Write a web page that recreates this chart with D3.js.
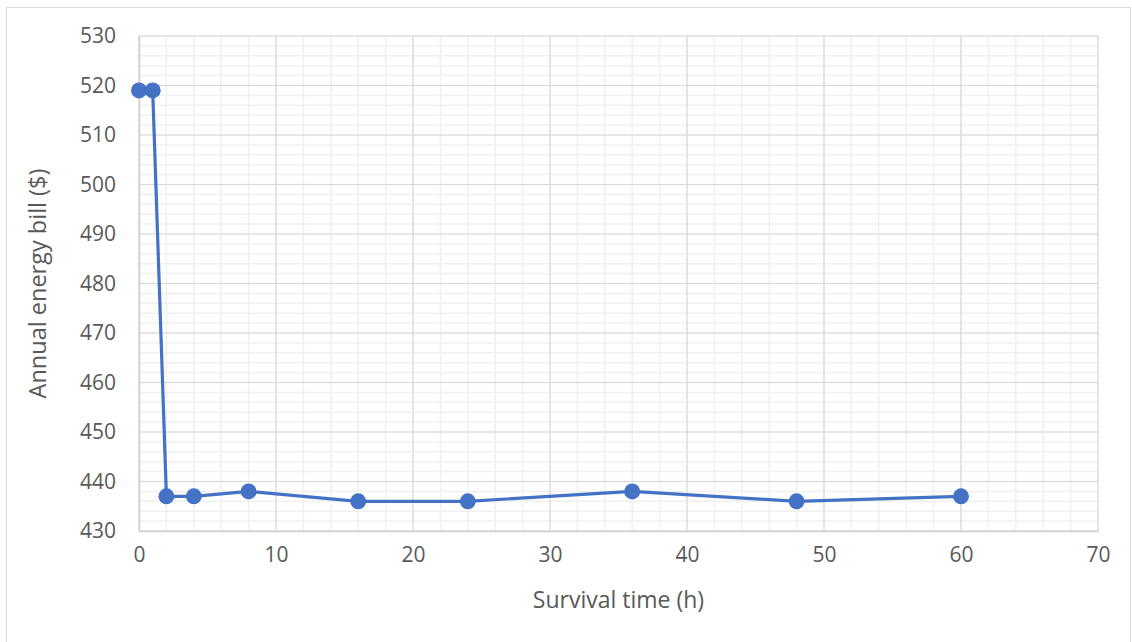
<!DOCTYPE html>
<html>
<head>
<meta charset="utf-8">
<script src="https://cdn.jsdelivr.net/npm/d3@7"></script>
<style>
  body { margin: 0; background: #fff; }
  svg { display: block; font-family: "Open Sans", "Noto Sans", sans-serif; }
</style>
</head>
<body>
<svg id="chart" width="1132" height="642"></svg>
<script>
// data
const hours = [0, 1, 2, 4, 8, 16, 24, 36, 48, 60];
const bill = [519, 519, 437, 437, 438, 436, 436, 438, 436, 437];
const xTicks = [0, 10, 20, 30, 40, 50, 60, 70];
const yTicks = [430, 440, 450, 460, 470, 480, 490, 500, 510, 520, 530];
const xTitle = "Survival time (h)";
const yTitle = "Annual energy bill ($)";

const svg = d3.select("#chart");
const plotL = 139, plotR = 1098, plotT = 36, plotB = 531;

// outer frame
svg.append("rect")
    .attr("x", 6.5).attr("y", 7.5)
    .attr("width", 1124).attr("height", 650)
    .attr("fill", "#fff")
    .attr("stroke", "#d9d9d9");

const x = d3.scaleLinear().domain([0, 70]).range([plotL, plotR]);
const y = d3.scaleLinear().domain([430, 530]).range([plotB, plotT]);

// minor grid
const g = svg.append("g");
g.selectAll(".mx").data(d3.range(0, 71, 2)).enter().append("line")
    .attr("x1", d => x(d)).attr("x2", d => x(d))
    .attr("y1", plotT).attr("y2", plotB)
    .attr("stroke", "#f0f0f0").attr("stroke-width", 1.5);
g.selectAll(".my").data(d3.range(430, 531, 2)).enter().append("line")
    .attr("y1", d => y(d)).attr("y2", d => y(d))
    .attr("x1", plotL).attr("x2", plotR)
    .attr("stroke", "#f0f0f0").attr("stroke-width", 1.5);

// major grid
g.selectAll(".gx").data(xTicks).enter().append("line")
    .attr("x1", d => x(d)).attr("x2", d => x(d))
    .attr("y1", plotT).attr("y2", plotB)
    .attr("stroke", "#d9d9d9").attr("stroke-width", 1.2);
g.selectAll(".gy").data(yTicks).enter().append("line")
    .attr("y1", d => y(d)).attr("y2", d => y(d))
    .attr("x1", plotL).attr("x2", plotR)
    .attr("stroke", "#d9d9d9").attr("stroke-width", 1.2);

// axes
const xAxis = svg.append("g")
    .attr("transform", `translate(0,${plotB})`)
    .call(d3.axisBottom(x).tickValues(xTicks).tickSize(0).tickPadding(16));
const yAxis = svg.append("g")
    .attr("transform", `translate(${plotL},0)`)
    .call(d3.axisLeft(y).tickValues(yTicks).tickSize(0).tickPadding(23));
[xAxis, yAxis].forEach(a => {
    a.select(".domain").attr("stroke", "#d0d0d0").attr("stroke-width", 1.5);
    a.selectAll("text").attr("fill", "#595959").style("font-size", "21px")
        .style("font-family", "'Open Sans', 'Noto Sans', sans-serif");
});

// series
const pts = hours.map((h, i) => ({ h, v: bill[i] }));
svg.append("path")
    .datum(pts)
    .attr("fill", "none")
    .attr("stroke", "#4472C4")
    .attr("stroke-width", 3.2)
    .attr("d", d3.line().x(d => x(d.h)).y(d => y(d.v)));
svg.selectAll(".pt").data(pts).enter().append("circle")
    .attr("cx", d => x(d.h)).attr("cy", d => y(d.v))
    .attr("r", 8)
    .attr("fill", "#4472C4");

// titles
svg.append("text")
    .attr("x", (plotL + plotR) / 2).attr("y", 608)
    .attr("text-anchor", "middle")
    .attr("fill", "#595959").style("font-size", "23px")
    .text(xTitle);
svg.append("text")
    .attr("transform", `translate(46,${(plotT + plotB) / 2}) rotate(-90)`)
    .attr("text-anchor", "middle")
    .attr("fill", "#595959").style("font-size", "23.5px")
    .text(yTitle);
</script>
</body>
</html>
